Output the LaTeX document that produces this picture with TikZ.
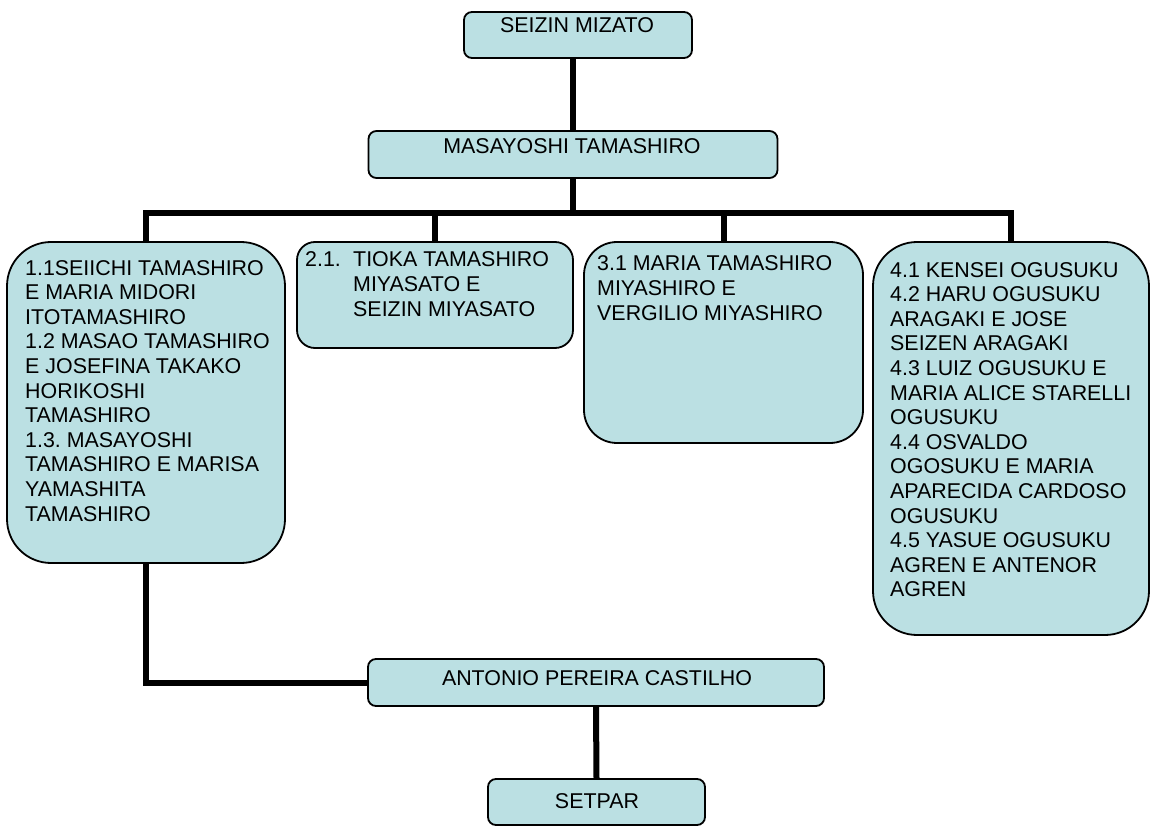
\documentclass[tikz,border=0pt]{standalone}
\usepackage{fontspec}
\setmainfont{Liberation Sans}
\usetikzlibrary{calc}
\pgfdeclarelayer{background}
\pgfsetlayers{background,main}
\definecolor{boxfill}{RGB}{187,224,227}
\frenchspacing
\begin{document}
\begin{tikzpicture}[x=1pt,y=-1pt,
  box/.style={draw=black,line width=1.8pt,fill=boxfill,rectangle,inner sep=0pt},
  txt/.style={inner sep=0pt,font=\frenchspacing\fontsize{21.4}{24.6}\selectfont,align=left},
  conn/.style={line width=6pt,line join=miter}]
\useasboundingbox (0,0) rectangle (1152,826);
% boxes
\node[box,rounded corners=8pt,minimum width=228pt,minimum height=46pt] (seizin) at (578,35) {};
\node[box,rounded corners=8pt,minimum width=409pt,minimum height=47pt] (masa) at (573,154.5) {};
\node[box,rounded corners=44pt,minimum width=278pt,minimum height=321pt] (b1) at (146,402.5) {};
\node[box,rounded corners=18pt,minimum width=276pt,minimum height=106pt] (b2) at (435,295) {};
\node[box,rounded corners=33pt,minimum width=279pt,minimum height=201pt] (b3) at (723.5,342.5) {};
\node[box,rounded corners=44pt,minimum width=276pt,minimum height=393pt] (b4) at (1011,438.5) {};
\node[box,rounded corners=8pt,minimum width=456pt,minimum height=47pt] (ant) at (596,682.5) {};
\node[box,rounded corners=8pt,minimum width=217pt,minimum height=46pt] (setpar) at (596.5,802) {};
% texts (multi-line nodes are anchored at the baseline of their last line)
\node[txt,anchor=base] (tseizin) at (577,33) {SEIZIN MIZATO};
\node[txt,anchor=base] (tmasa) at (572,154) {MASAYOSHI TAMASHIRO};
\node[txt,anchor=base west] (t1) at (25,521) {1.1SEIICHI TAMASHIRO\\E MARIA MIDORI\\ITOTAMASHIRO\\1.2 MASAO TAMASHIRO\\E JOSEFINA TAKAKO\\HORIKOSHI\\TAMASHIRO\\1.3. MASAYOSHI\\TAMASHIRO E MARISA\\YAMASHITA\\TAMASHIRO};
\node[txt,anchor=base west] (t2) at (305,316.2) {\makebox[48pt][l]{2.1.}TIOKA TAMASHIRO\\\hspace*{48pt}MIYASATO E\\\hspace*{48pt}SEIZIN MIYASATO};
\node[txt,anchor=base west] (t3) at (597,320.2) {3.1 MARIA TAMASHIRO\\MIYASHIRO E\\VERGILIO MIYASHIRO};
\node[txt,anchor=base west] (t4) at (890,596.8) {4.1 KENSEI OGUSUKU\\4.2 HARU OGUSUKU\\ARAGAKI E JOSE\\SEIZEN ARAGAKI\\4.3 LUIZ OGUSUKU E\\MARIA ALICE STARELLI\\OGUSUKU\\4.4 OSVALDO\\OGOSUKU E MARIA\\APARECIDA CARDOSO\\OGUSUKU\\4.5 YASUE OGUSUKU\\AGREN E ANTENOR\\AGREN};
\node[txt,anchor=base] (tant) at (597,685) {ANTONIO PEREIRA CASTILHO};
\node[txt,anchor=base] (tset) at (597,808) {SETPAR};
% connectors
\coordinate (j) at (573,213);
\begin{pgfonlayer}{background}
\draw[conn] (masa.north) -- (masa.north |- seizin.south);
\draw[conn] (masa.south) -- (j);
\draw[conn] (b1.north) |- (j) -| (b4.north);
\draw[conn] (b2.north) -- (b2.north |- j);
\draw[conn] (b3.north) -- (b3.north |- j);
\draw[conn] (b1.south) |- (ant.west);
\draw[conn] (ant.south) -- (setpar.north);
\end{pgfonlayer}
\end{tikzpicture}
\end{document}
